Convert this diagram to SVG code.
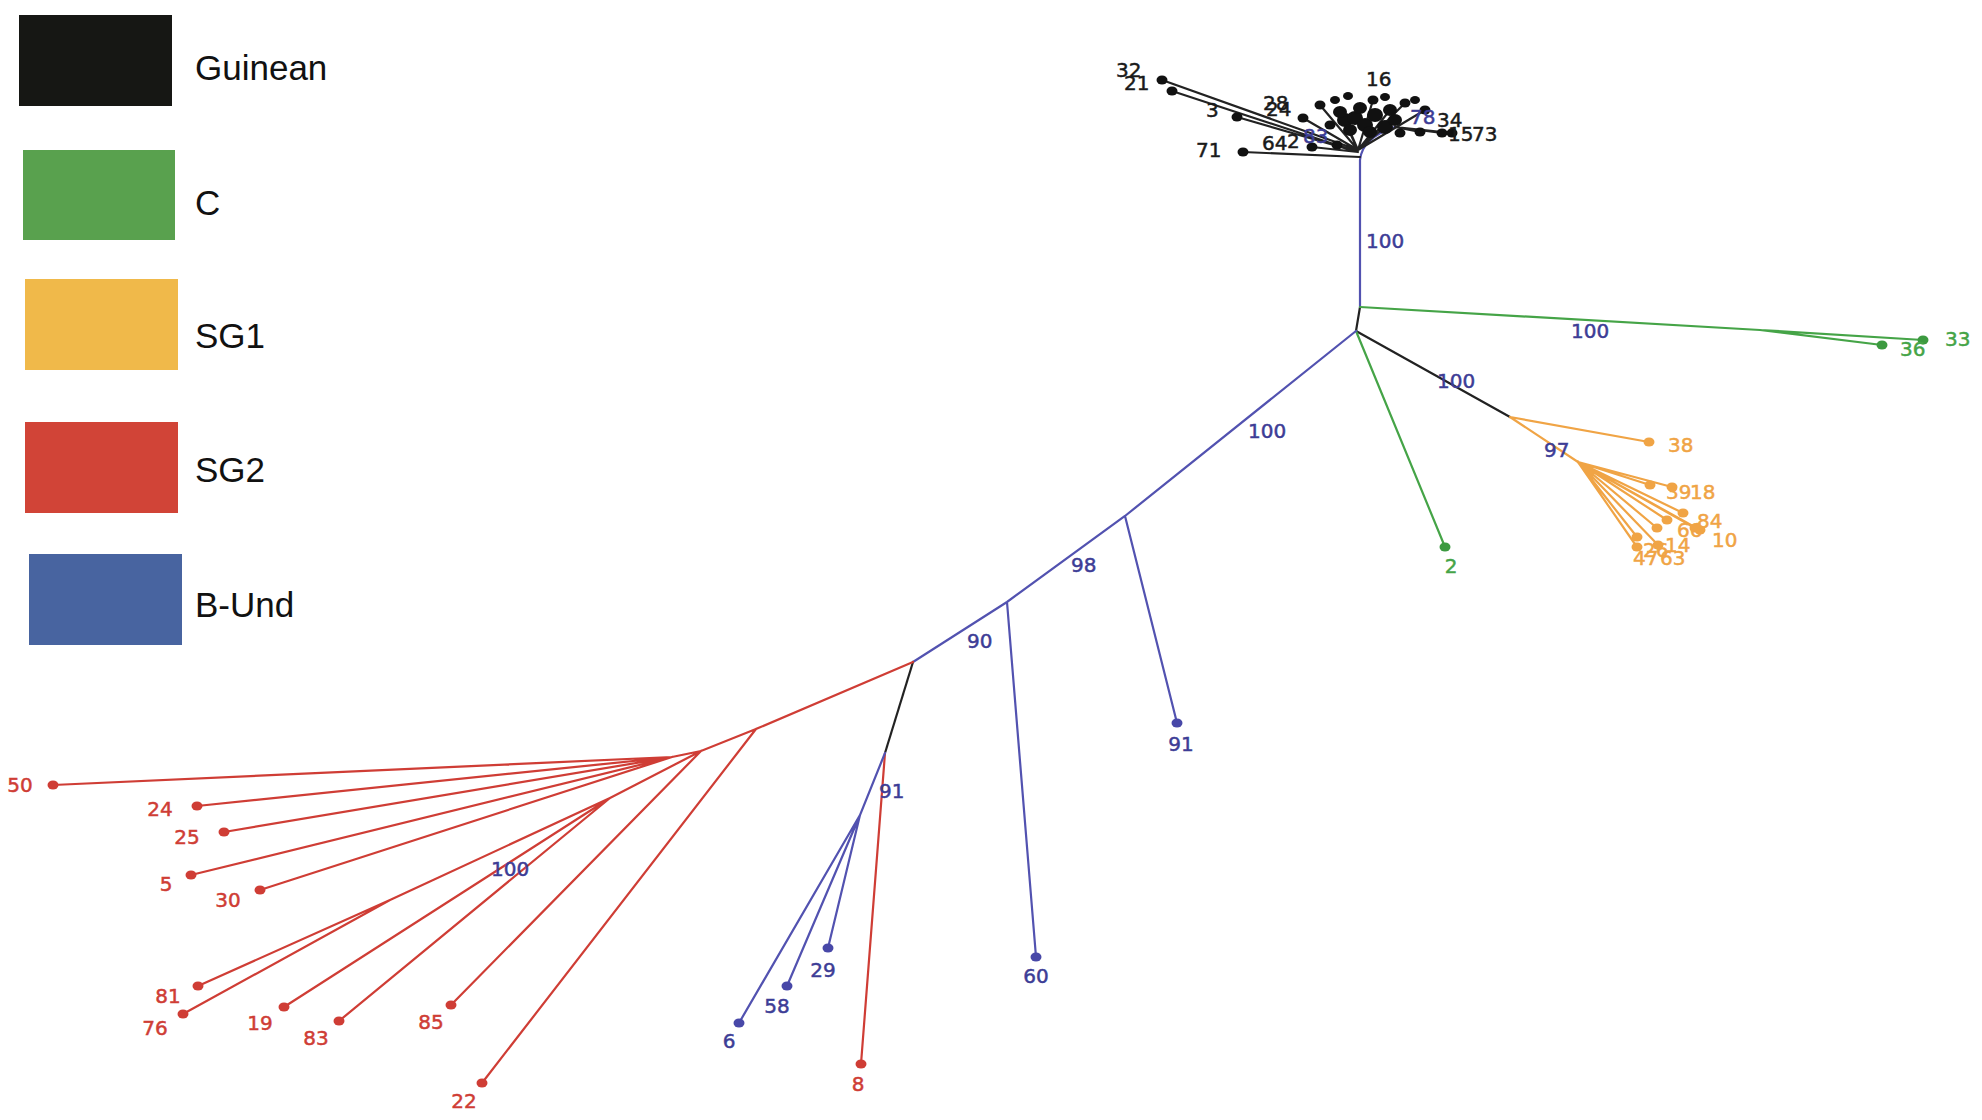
<svg xmlns="http://www.w3.org/2000/svg" width="1982" height="1120" viewBox="0 0 1982 1120">
<style>
.e{fill:none;stroke-width:2.2;stroke-linecap:round}
.r{stroke:#cf3d35}.b{stroke:#5252b0}.k{stroke:#222}.o{stroke:#f0a445}.g{stroke:#45a447}
.dr{fill:#cf3d35}.db{fill:#4848a8}.dk{fill:#111}.do{fill:#f0a445}.dg{fill:#3c9a40}
.t{font-family:"DejaVu Sans","Liberation Sans",sans-serif;font-size:20px;stroke-width:0.5}
.tr{fill:#cf3d35;stroke:#cf3d35}.tb{fill:#3d3d96;stroke:#3d3d96}.tk{fill:#1a1a1a;stroke:#1a1a1a}.to{fill:#f0a445;stroke:#f0a445}.tg{fill:#45a447;stroke:#45a447}
.lg{font-family:"Liberation Sans",Arial,sans-serif;font-size:35px;fill:#111}
</style>
<rect width="1982" height="1120" fill="#fff"/>
<g id="legend">
<g id="legend-guinean"><rect x="19" y="15" width="153" height="91" fill="#161714"/><text class="lg" x="195" y="80">Guinean</text></g>
<g id="legend-c"><rect x="23" y="150" width="152" height="90" fill="#59a14e"/><text class="lg" x="195" y="215">C</text></g>
<g id="legend-sg1"><rect x="25" y="279" width="153" height="91" fill="#f0b94a"/><text class="lg" x="195" y="348">SG1</text></g>
<g id="legend-sg2"><rect x="25" y="422" width="153" height="91" fill="#d14437"/><text class="lg" x="195" y="482">SG2</text></g>
<g id="legend-bund"><rect x="29" y="554" width="153" height="91" fill="#4864a0"/><text class="lg" x="195" y="617">B-Und</text></g>
</g>
<g id="connectors">
<path class="e k" d="M1356,331 L1360,307"/>
<path class="e b" d="M1360,307 L1360,160 Q1362,138 1395,127"/>
<path class="e g" d="M1360,307 L1760,330 L1923,340 M1760,330 L1882,345"/>
<path class="e k" d="M1356,331 L1510,417"/>
<path class="e o" d="M1510,417 L1649,442 M1510,417 L1578,462"/>
<path class="e o" d="M1578,462 L1650,485 M1578,462 L1672,487 M1578,462 L1683,513 M1578,462 L1667,520 M1578,462 L1700,530 M1578,462 L1658,545 M1578,462 L1637,537 M1578,462 L1637,547 M1578,462 L1657,528 M1578,462 L1695,528"/>
<path class="e g" d="M1356,331 L1445,547"/>
<path class="e b" d="M1356,331 L1125,516 L1007,602 L913,662 M1125,516 L1177,723 M1007,602 L1036,957"/>
<path class="e k" d="M913,662 L885,753"/>
<path class="e r" d="M885,753 L861,1064"/>
<path class="e b" d="M885,753 L860,815 L828,948 M860,815 L787,986 M860,815 L739,1023"/>
<path class="e r" d="M913,662 L756,729 L482,1083 M756,729 L701,751 L672,757 M672,757 L53,785 M672,757 L197,806 M672,757 L224,832 M672,757 L191,875 M672,757 L260,890 M701,751 L610,798 L390,900 L198,986 M390,900 L183,1014 M610,798 L284,1007 M610,798 L339,1021 M701,751 L451,1005"/>
<path class="e k" d="M1358,150 L1162,80 M1358,152 L1172,91 M1358,152 L1237,117 M1360,157 L1243,152 M1358,152 L1312,147 M1358,152 L1337,145 M1358,150 L1303,118 M1358,150 L1345,120 M1358,150 L1373,100 M1358,150 L1385,127 M1395,127 L1420,132 M1395,127 L1442,133 M1395,127 L1452,133 M1358,150 L1340,112 M1358,150 L1390,110 M1358,150 L1320,105 M1358,150 L1405,103 M1358,150 L1425,110"/>
</g>
<g id="guinean-cluster">
<g id="n32"><ellipse class="dk" cx="1162" cy="80" rx="5.5" ry="4.5"/><text class="t tk" x="1116" y="77">32</text></g>
<g id="n21"><ellipse class="dk" cx="1172" cy="91" rx="5.5" ry="4.5"/><text class="t tk" x="1124" y="90">21</text></g>
<g id="n3"><ellipse class="dk" cx="1237" cy="117" rx="5.5" ry="4.5"/><text class="t tk" x="1206" y="117">3</text></g>
<g id="n71"><ellipse class="dk" cx="1243" cy="152" rx="5.5" ry="4.5"/><text class="t tk" x="1196" y="157">71</text></g>
<g id="n64"><ellipse class="dk" cx="1312" cy="147" rx="5.5" ry="4.5"/><text class="t tk" x="1262" y="150">64</text></g>
<g id="n2g"><ellipse class="dk" cx="1337" cy="145" rx="5.5" ry="4.5"/><text class="t tk" x="1287" y="148">2</text></g>
<g id="n28"><ellipse class="dk" cx="1303" cy="118" rx="5.5" ry="4.5"/><text class="t tk" x="1263" y="110">28</text></g>
<g id="n24g"><text class="t tk" x="1266" y="116">24</text></g>
<g id="n16"><ellipse class="dk" cx="1373" cy="100" rx="5.5" ry="4.5"/><text class="t tk" x="1366" y="86">16</text></g>
<g id="n34"><ellipse class="dk" cx="1442" cy="133" rx="5.5" ry="4.5"/><text class="t tk" x="1437" y="127">34</text></g>
<g id="n15"><ellipse class="dk" cx="1452" cy="133" rx="5.5" ry="4.5"/><text class="t tk" x="1448" y="141">15</text></g>
<g id="n73"><ellipse class="dk" cx="1420" cy="132" rx="5.5" ry="4.5"/><text class="t tk" x="1472" y="141">73</text></g>
<g id="blob">
<ellipse class="dk" cx="1345" cy="120" rx="8" ry="7"/><ellipse class="dk" cx="1355" cy="118" rx="8" ry="7"/><ellipse class="dk" cx="1365" cy="125" rx="8" ry="7"/><ellipse class="dk" cx="1375" cy="115" rx="8" ry="7"/><ellipse class="dk" cx="1385" cy="127" rx="8" ry="7"/><ellipse class="dk" cx="1395" cy="120" rx="7" ry="6"/><ellipse class="dk" cx="1350" cy="130" rx="7" ry="6"/><ellipse class="dk" cx="1370" cy="132" rx="7" ry="6"/><ellipse class="dk" cx="1340" cy="112" rx="7" ry="6"/><ellipse class="dk" cx="1390" cy="110" rx="7" ry="6"/><ellipse class="dk" cx="1400" cy="133" rx="5.5" ry="4.5"/><ellipse class="dk" cx="1330" cy="125" rx="5.5" ry="4.5"/><ellipse class="dk" cx="1360" cy="108" rx="7" ry="6"/><ellipse class="dk" cx="1320" cy="105" rx="5.5" ry="4.5"/><ellipse class="dk" cx="1405" cy="103" rx="5.5" ry="4.5"/><ellipse class="dk" cx="1425" cy="110" rx="5.5" ry="4.5"/><ellipse class="dk" cx="1335" cy="100" rx="5" ry="4"/><ellipse class="dk" cx="1348" cy="96" rx="5" ry="4"/><ellipse class="dk" cx="1385" cy="97" rx="5" ry="4"/><ellipse class="dk" cx="1415" cy="100" rx="5" ry="4"/>
</g>
<text class="t tb" x="1303" y="143">83</text>
<text class="t tb" x="1410" y="124">78</text>
</g>
<g id="c-group">
<g id="n33"><ellipse class="dg" cx="1923" cy="340" rx="5.5" ry="4.5"/><text class="t tg" x="1945" y="346">33</text></g>
<g id="n36"><ellipse class="dg" cx="1882" cy="345" rx="5.5" ry="4.5"/><text class="t tg" x="1900" y="356">36</text></g>
<g id="n2"><ellipse class="dg" cx="1445" cy="547" rx="5.5" ry="4.5"/><text class="t tg" x="1451" y="573" text-anchor="middle">2</text></g>
</g>
<g id="sg1-group">
<g id="n38"><ellipse class="do" cx="1649" cy="442" rx="5.5" ry="4.5"/><text class="t to" x="1668" y="452">38</text></g>
<g id="n39"><ellipse class="do" cx="1650" cy="485" rx="5.5" ry="4.5"/><text class="t to" x="1666" y="499">39</text></g>
<g id="n18"><ellipse class="do" cx="1672" cy="487" rx="5.5" ry="4.5"/><text class="t to" x="1690" y="499">18</text></g>
<g id="n84"><ellipse class="do" cx="1683" cy="513" rx="5.5" ry="4.5"/><text class="t to" x="1697" y="528">84</text></g>
<g id="n66"><ellipse class="do" cx="1667" cy="520" rx="5.5" ry="4.5"/><text class="t to" x="1677" y="537">66</text></g>
<g id="n10"><ellipse class="do" cx="1700" cy="530" rx="5.5" ry="4.5"/><ellipse class="do" cx="1695" cy="528" rx="5.5" ry="4.5"/><text class="t to" x="1712" y="547">10</text></g>
<g id="n14"><ellipse class="do" cx="1658" cy="545" rx="5.5" ry="4.5"/><text class="t to" x="1665" y="552">14</text></g>
<g id="n26"><ellipse class="do" cx="1637" cy="537" rx="5.5" ry="4.5"/><text class="t to" x="1643" y="557">26</text></g>
<g id="n47"><ellipse class="do" cx="1637" cy="547" rx="5.5" ry="4.5"/><text class="t to" x="1633" y="565">47</text></g>
<g id="n63"><ellipse class="do" cx="1657" cy="528" rx="5.5" ry="4.5"/><text class="t to" x="1660" y="565">63</text></g>
</g>
<g id="bund-group">
<g id="n91"><ellipse class="db" cx="1177" cy="723" rx="5.5" ry="4.5"/><text class="t tb" x="1181" y="751" text-anchor="middle">91</text></g>
<g id="n60"><ellipse class="db" cx="1036" cy="957" rx="5.5" ry="4.5"/><text class="t tb" x="1036" y="983" text-anchor="middle">60</text></g>
<g id="n29"><ellipse class="db" cx="828" cy="948" rx="5.5" ry="4.5"/><text class="t tb" x="823" y="977" text-anchor="middle">29</text></g>
<g id="n58"><ellipse class="db" cx="787" cy="986" rx="5.5" ry="4.5"/><text class="t tb" x="777" y="1013" text-anchor="middle">58</text></g>
<g id="n6"><ellipse class="db" cx="739" cy="1023" rx="5.5" ry="4.5"/><text class="t tb" x="729" y="1048" text-anchor="middle">6</text></g>
</g>
<g id="sg2-group">
<g id="n8"><ellipse class="dr" cx="861" cy="1064" rx="5.5" ry="4.5"/><text class="t tr" x="858" y="1091" text-anchor="middle">8</text></g>
<g id="n22"><ellipse class="dr" cx="482" cy="1083" rx="5.5" ry="4.5"/><text class="t tr" x="464" y="1108" text-anchor="middle">22</text></g>
<g id="n50"><ellipse class="dr" cx="53" cy="785" rx="5.5" ry="4.5"/><text class="t tr" x="20" y="792" text-anchor="middle">50</text></g>
<g id="n24"><ellipse class="dr" cx="197" cy="806" rx="5.5" ry="4.5"/><text class="t tr" x="160" y="816" text-anchor="middle">24</text></g>
<g id="n25"><ellipse class="dr" cx="224" cy="832" rx="5.5" ry="4.5"/><text class="t tr" x="187" y="844" text-anchor="middle">25</text></g>
<g id="n5"><ellipse class="dr" cx="191" cy="875" rx="5.5" ry="4.5"/><text class="t tr" x="166" y="891" text-anchor="middle">5</text></g>
<g id="n30"><ellipse class="dr" cx="260" cy="890" rx="5.5" ry="4.5"/><text class="t tr" x="228" y="907" text-anchor="middle">30</text></g>
<g id="n81"><ellipse class="dr" cx="198" cy="986" rx="5.5" ry="4.5"/><text class="t tr" x="168" y="1003" text-anchor="middle">81</text></g>
<g id="n76"><ellipse class="dr" cx="183" cy="1014" rx="5.5" ry="4.5"/><text class="t tr" x="155" y="1035" text-anchor="middle">76</text></g>
<g id="n19"><ellipse class="dr" cx="284" cy="1007" rx="5.5" ry="4.5"/><text class="t tr" x="260" y="1030" text-anchor="middle">19</text></g>
<g id="n83"><ellipse class="dr" cx="339" cy="1021" rx="5.5" ry="4.5"/><text class="t tr" x="316" y="1045" text-anchor="middle">83</text></g>
<g id="n85"><ellipse class="dr" cx="451" cy="1005" rx="5.5" ry="4.5"/><text class="t tr" x="431" y="1029" text-anchor="middle">85</text></g>
</g>
<g id="support-labels">
<text class="t tb" x="1366" y="248">100</text>
<text class="t tb" x="1571" y="338">100</text>
<text class="t tb" x="1437" y="388">100</text>
<text class="t tb" x="1544" y="457">97</text>
<text class="t tb" x="1248" y="438">100</text>
<text class="t tb" x="1071" y="572">98</text>
<text class="t tb" x="967" y="648">90</text>
<text class="t tb" x="879" y="798">91</text>
<text class="t tb" x="491" y="876">100</text>
</g>
</svg>
